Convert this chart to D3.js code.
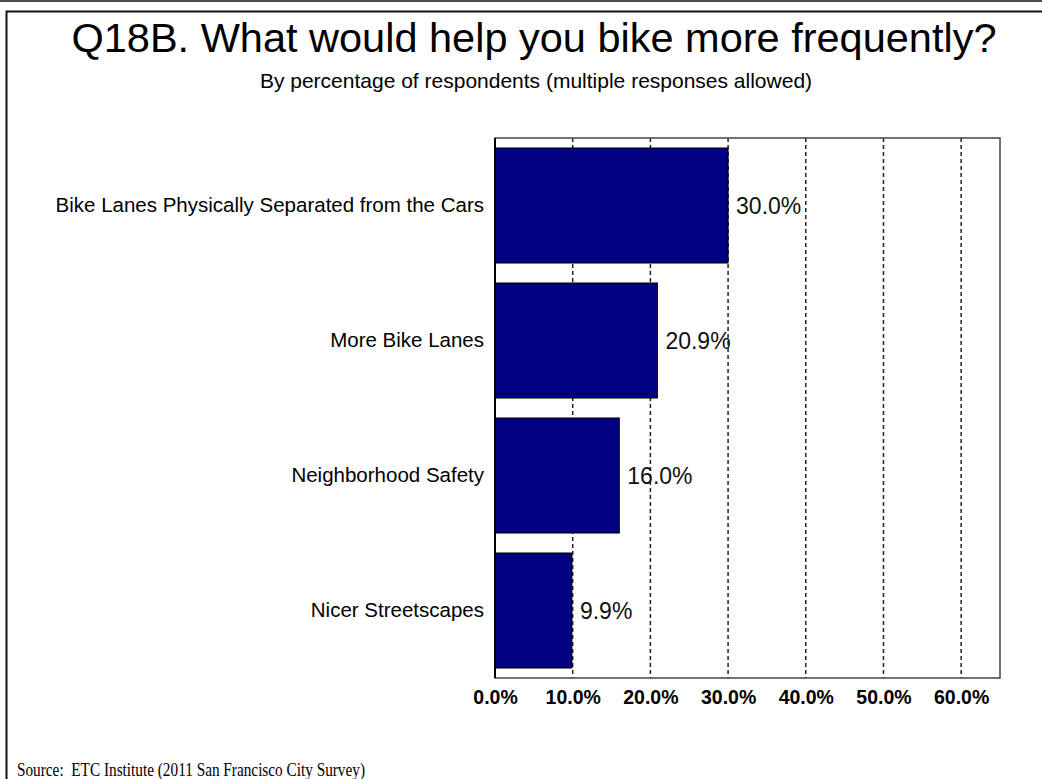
<!DOCTYPE html>
<html>
<head>
<meta charset="utf-8">
<script src="https://cdn.jsdelivr.net/npm/d3@7"></script>
<style>
  html, body { margin: 0; padding: 0; background: #fff; }
  svg { display: block; }
</style>
</head>
<body>
<svg id="chart" width="1042" height="779"></svg>
<script>
// Survey responses: what would help respondents bike more often
const categories = [
  "Bike Lanes Physically Separated from the Cars",
  "More Bike Lanes",
  "Neighborhood Safety",
  "Nicer Streetscapes"
];
const percentages = [30.0, 20.9, 16.0, 9.9];
const tickValues = [0, 10, 20, 30, 40, 50, 60];
const titleText = "Q18B. What would help you bike more frequently?";
const subtitleText = "By percentage of respondents (multiple responses allowed)";
const sourceText = "Source:  ETC Institute (2011 San Francisco City Survey)";

const W = 1042, H = 779;
const svg = d3.select("#chart");
const sans = "Arial, 'Liberation Sans', sans-serif";

// outer frame
svg.append("line").attr("x1", 0).attr("x2", W).attr("y1", 1).attr("y2", 1)
  .attr("stroke", "#111").attr("stroke-width", 1.5);
svg.append("path")
  .attr("d", `M${W},11.5 H6.5 V${H}`)
  .attr("fill", "none").attr("stroke", "#111").attr("stroke-width", 2);

// titles
svg.append("text").attr("x", 534).attr("y", 52)
  .attr("text-anchor", "middle")
  .style("font-family", sans)
  .style("font-size", "41.5px").attr("fill", "#000")
  .text(titleText);
svg.append("text").attr("x", 536).attr("y", 88)
  .attr("text-anchor", "middle")
  .style("font-family", sans)
  .style("font-size", "21px").attr("fill", "#000")
  .text(subtitleText);

// plot area
const plot = { left: 495, right: 1000, top: 138, bottom: 678 };

const x = d3.scaleLinear().domain([0, 65]).range([plot.left, plot.right]);
const y = d3.scaleBand().domain(categories)
  .range([plot.top, plot.bottom])
  .paddingInner(0.148).paddingOuter(0.074);

const g = svg.append("g");

// dashed vertical gridlines
g.selectAll("line.grid").data(tickValues.filter(d => d > 0))
  .join("line").attr("class", "grid")
  .attr("x1", d => x(d)).attr("x2", d => x(d))
  .attr("y1", plot.top).attr("y2", plot.bottom)
  .attr("stroke", "#222").attr("stroke-width", 1.5)
  .attr("stroke-dasharray", "4,3");

// bars
g.selectAll("rect.bar").data(percentages)
  .join("rect").attr("class", "bar")
  .attr("x", x(0))
  .attr("y", (d, i) => y(categories[i]))
  .attr("width", d => x(d) - x(0))
  .attr("height", y.bandwidth())
  .attr("fill", "#000080")
  .attr("stroke", "#000").attr("stroke-width", 1);

// plot border
g.append("rect")
  .attr("x", plot.left).attr("y", plot.top)
  .attr("width", plot.right - plot.left).attr("height", plot.bottom - plot.top)
  .attr("fill", "none").attr("stroke", "#444").attr("stroke-width", 1.5);
g.append("line").attr("x1", plot.left).attr("x2", plot.left)
  .attr("y1", plot.top).attr("y2", plot.bottom)
  .attr("stroke", "#000").attr("stroke-width", 2);

// value labels
g.selectAll("text.val").data(percentages)
  .join("text").attr("class", "val")
  .attr("x", d => x(d) + 8)
  .attr("y", (d, i) => y(categories[i]) + y.bandwidth() / 2)
  .attr("dy", "0.35em")
  .style("font-family", sans)
  .style("font-size", "23px").attr("fill", "#111")
  .text(d => d.toFixed(1) + "%");

// category axis labels
const yAxis = d3.axisLeft(y).tickSize(0).tickPadding(11);
const yg = svg.append("g").attr("transform", `translate(${plot.left},0)`).call(yAxis);
yg.select(".domain").remove();
yg.selectAll("text")
  .style("font-family", sans)
  .style("font-size", "20.5px").attr("fill", "#000");

// percentage axis labels
const xAxis = d3.axisBottom(x).tickValues(tickValues).tickSize(0).tickPadding(12)
  .tickFormat(d => d.toFixed(1) + "%");
const xg = svg.append("g").attr("transform", `translate(0,${plot.bottom})`).call(xAxis);
xg.select(".domain").remove();
xg.selectAll("text")
  .style("font-family", sans)
  .style("font-size", "19.5px").style("font-weight", "bold").attr("fill", "#000");

// source note
svg.append("text").attr("x", 17).attr("y", 776)
  .style("font-family", "'Times New Roman', 'Liberation Serif', serif")
  .style("font-size", "19px").style("white-space", "pre").attr("fill", "#000")
  .attr("textLength", 348).attr("lengthAdjust", "spacingAndGlyphs")
  .text(sourceText);
</script>
</body>
</html>
